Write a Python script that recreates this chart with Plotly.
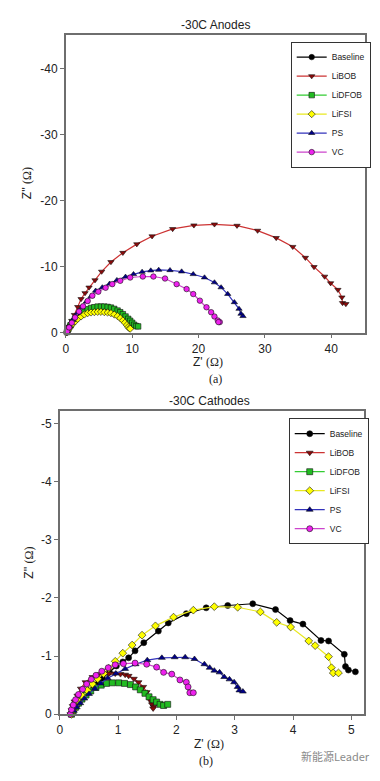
import plotly.graph_objects as go

W, H = 380, 781

# ---------------- Data: -30C Anodes  (Z' and Z'' in ohm) ----------------
series_names = ["Baseline", "LiBOB", "LiDFOB", "LiFSI", "PS", "VC"]

an_base_zre = [0.1, 0.2, 0.35, 0.5, 0.7, 0.9, 1.2, 1.6, 2.1, 2.7, 3.4, 4.2, 5.0, 5.8, 6.6, 7.4, 8.1, 8.7, 9.2, 9.6, 9.8]
an_base_zim = [0.0, -0.3, -0.6, -0.9, -1.2, -1.5, -1.9, -2.3, -2.7, -3.0, -3.25, -3.4, -3.45, -3.4, -3.25, -3.0, -2.6, -2.1, -1.6, -1.2, -1.0]

an_libob_zre = [0.2, 0.5, 0.9, 1.3, 1.8, 2.3, 2.9, 3.5, 4.4, 5.4, 6.8, 8.6, 10.7, 13.0, 16.1, 19.3, 22.4, 25.8, 28.9, 31.7, 34.2, 36.1, 37.4, 39.0, 39.9, 41.0, 41.6, 41.7, 42.2]
an_libob_zim = [-0.2, -0.9, -1.8, -2.7, -3.9, -5.1, -6.0, -6.85, -7.95, -9.25, -10.7, -12.1, -13.4, -14.6, -15.7, -16.25, -16.4, -16.2, -15.45, -14.35, -13.0, -11.35, -9.95, -8.5, -7.5, -6.5, -5.35, -4.5, -4.35]

an_lidfob_zre = [0.2, 0.4, 0.7, 1.0, 1.4, 1.8, 2.3, 2.8, 3.3, 3.8, 4.3, 4.8, 5.3, 5.8, 6.3, 6.8, 7.3, 7.8, 8.2, 8.6, 9.0, 9.4, 9.7, 10.0, 10.3, 10.6, 10.9]
an_lidfob_zim = [-0.1, -0.6, -1.1, -1.6, -2.1, -2.5, -2.9, -3.3, -3.55, -3.75, -3.85, -3.95, -3.95, -3.95, -3.9, -3.8, -3.6, -3.35, -3.1, -2.8, -2.45, -2.1, -1.8, -1.5, -1.2, -1.0, -0.95]

an_lifsi_zre = [0.2, 0.4, 0.7, 1.0, 1.4, 1.8, 2.3, 2.8, 3.3, 3.8, 4.3, 4.8, 5.3, 5.8, 6.3, 6.8, 7.3, 7.8, 8.2, 8.6, 8.9, 9.2, 9.4, 9.6, 9.7]
an_lifsi_zim = [-0.1, -0.5, -0.9, -1.3, -1.7, -2.1, -2.45, -2.75, -2.95, -3.05, -3.1, -3.15, -3.15, -3.1, -3.05, -2.95, -2.75, -2.5, -2.2, -1.85, -1.5, -1.15, -0.85, -0.65, -0.6]

an_ps_zre = [0.2, 0.6, 1.1, 1.7, 2.4, 3.1, 3.8, 4.5, 5.5, 6.6, 7.7, 9.0, 10.2, 11.5, 12.8, 14.0, 15.7, 17.45, 19.2, 20.9, 22.4, 23.4, 24.4, 25.4, 26.1, 26.4, 26.7]
an_ps_zim = [-0.2, -1.0, -1.9, -2.9, -3.8, -4.7, -5.5, -6.35, -6.85, -7.4, -7.95, -8.45, -8.85, -9.2, -9.4, -9.5, -9.45, -9.25, -8.85, -8.35, -7.6, -6.85, -5.85, -4.6, -3.6, -2.85, -2.5]

an_vc_zre = [0.2, 0.5, 0.9, 1.4, 2.0, 2.6, 3.3, 4.0, 4.9, 6.0, 7.0, 8.2, 9.7, 11.6, 13.2, 14.95, 16.7, 18.2, 19.2, 20.2, 21.2, 21.9, 22.4, 22.9, 23.2, 23.0]
an_vc_zim = [-0.2, -0.8, -1.5, -2.3, -3.2, -4.0, -4.8, -5.6, -6.2, -6.8, -7.35, -7.85, -8.35, -8.5, -8.5, -8.2, -7.35, -6.6, -5.85, -4.85, -3.85, -3.1, -2.45, -1.85, -1.6, -1.6]

# ---------------- Data: -30C Cathodes ----------------
ca_base_zre = [0.2, 0.22, 0.25, 0.3, 0.36, 0.43, 0.52, 0.62, 0.73, 0.85, 0.97, 1.08, 1.18, 1.29, 1.44, 1.69, 1.86, 2.17, 2.51, 2.88, 3.31, 3.70, 3.95, 4.17, 4.48, 4.61, 4.88, 4.90, 4.95, 5.07]
ca_base_zim = [0.0, -0.05, -0.1, -0.17, -0.25, -0.33, -0.42, -0.52, -0.62, -0.72, -0.83, -0.9, -0.97, -1.09, -1.23, -1.43, -1.57, -1.73, -1.83, -1.87, -1.9, -1.80, -1.61, -1.55, -1.27, -1.26, -1.03, -0.82, -0.76, -0.73]

ca_libob_zre = [0.18, 0.2, 0.22, 0.25, 0.3, 0.36, 0.44, 0.56, 0.70, 0.84, 0.95, 1.04, 1.12, 1.18, 1.27, 1.35, 1.43, 1.49, 1.55, 1.58, 1.61, 1.60]
ca_libob_zim = [0.0, -0.07, -0.14, -0.22, -0.32, -0.44, -0.55, -0.64, -0.69, -0.7, -0.7, -0.69, -0.68, -0.66, -0.61, -0.55, -0.47, -0.38, -0.24, -0.17, -0.13, -0.1]

ca_lidfob_zre = [0.2, 0.23, 0.27, 0.32, 0.38, 0.45, 0.53, 0.62, 0.71, 0.8, 0.9, 1.01, 1.11, 1.21, 1.3, 1.38, 1.46, 1.53, 1.6, 1.66, 1.72, 1.78, 1.85]
ca_lidfob_zim = [0.0, -0.06, -0.12, -0.19, -0.26, -0.33, -0.4, -0.46, -0.5, -0.53, -0.54, -0.54, -0.53, -0.51, -0.47, -0.42, -0.36, -0.3, -0.25, -0.21, -0.17, -0.15, -0.17]

ca_lifsi_zre = [0.2, 0.23, 0.27, 0.32, 0.39, 0.47, 0.56, 0.65, 0.75, 0.84, 0.95, 1.08, 1.24, 1.41, 1.64, 1.95, 2.29, 2.65, 3.05, 3.44, 3.72, 3.96, 4.27, 4.38, 4.61, 4.66, 4.69, 4.78]
ca_lifsi_zim = [0.0, -0.07, -0.14, -0.22, -0.31, -0.41, -0.52, -0.61, -0.7, -0.79, -0.91, -1.05, -1.19, -1.36, -1.52, -1.67, -1.79, -1.85, -1.84, -1.76, -1.58, -1.50, -1.26, -1.18, -0.99, -0.80, -0.71, -0.71]

ca_ps_zre = [0.2, 0.24, 0.29, 0.35, 0.42, 0.5, 0.6, 0.7, 0.82, 0.96, 1.12, 1.3, 1.5, 1.75, 1.97, 2.15, 2.31, 2.48, 2.57, 2.65, 2.74, 2.82, 2.91, 2.99, 3.05, 3.08, 3.14]
ca_ps_zim = [0.0, -0.06, -0.12, -0.19, -0.27, -0.35, -0.44, -0.53, -0.62, -0.7, -0.78, -0.86, -0.93, -0.97, -0.98, -0.98, -0.95, -0.86, -0.8, -0.75, -0.72, -0.64, -0.6, -0.55, -0.47, -0.41, -0.39]

ca_vc_zre = [0.18, 0.2, 0.23, 0.27, 0.32, 0.39, 0.46, 0.54, 0.62, 0.72, 0.83, 0.95, 1.09, 1.29, 1.49, 1.66, 1.78, 1.92, 2.06, 2.17, 2.20, 2.23, 2.29]
ca_vc_zim = [0.0, -0.08, -0.16, -0.25, -0.34, -0.43, -0.52, -0.6, -0.67, -0.74, -0.8, -0.85, -0.87, -0.88, -0.86, -0.81, -0.72, -0.69, -0.59, -0.55, -0.47, -0.37, -0.37]

x_ticks_an = [0, 10, 20, 30, 40]
y_ticks_an = [0, -10, -20, -30, -40]
y_labels_an = ["0", "-10", "-20", "-30", "-40"]
x_ticks_ca = [0, 1, 2, 3, 4, 5]
y_ticks_ca = [0, -1, -2, -3, -4, -5]
y_labels_ca = ["0", "-1", "-2", "-3", "-4", "-5"]

# ---------------- Styles ----------------
styles = {
    "Baseline": dict(line="#000000", fill="#000000", symbol="circle"),
    "LiBOB":    dict(line="#cc3333", fill="#8b0a0a", symbol="triangle-down"),
    "LiDFOB":   dict(line="#33cc33", fill="#22bb22", symbol="square"),
    "LiFSI":    dict(line="#e8e820", fill="#ffff00", symbol="diamond"),
    "PS":       dict(line="#3333bb", fill="#000088", symbol="triangle-up"),
    "VC":       dict(line="#cc44cc", fill="#ee22ee", symbol="circle"),
}

anode_data = {
    "Baseline": (an_base_zre, an_base_zim),
    "LiBOB": (an_libob_zre, an_libob_zim),
    "LiDFOB": (an_lidfob_zre, an_lidfob_zim),
    "LiFSI": (an_lifsi_zre, an_lifsi_zim),
    "PS": (an_ps_zre, an_ps_zim),
    "VC": (an_vc_zre, an_vc_zim),
}
cathode_data = {
    "Baseline": (ca_base_zre, ca_base_zim),
    "LiBOB": (ca_libob_zre, ca_libob_zim),
    "LiDFOB": (ca_lidfob_zre, ca_lidfob_zim),
    "LiFSI": (ca_lifsi_zre, ca_lifsi_zim),
    "PS": (ca_ps_zre, ca_ps_zim),
    "VC": (ca_vc_zre, ca_vc_zim),
}

fig = go.Figure()

def add_series(data, xa, ya, legend, msize):
    for name in series_names:
        zre, zim = data[name]
        st = styles[name]
        fig.add_trace(go.Scatter(
            x=zre, y=zim, name=name, mode="lines+markers",
            xaxis=xa, yaxis=ya, legend=legend, cliponaxis=False,
            line=dict(color=st["line"], width=1.2),
            marker=dict(symbol=st["symbol"], size=msize, color=st["fill"],
                        line=dict(color="#111111", width=0.6)),
        ))

add_series(anode_data, "x", "y", "legend", 5.5)
add_series(cathode_data, "x2", "y2", "legend2", 6)

def py(p):
    return 1 - p / H

def px(p):
    return p / W

axis_common = dict(
    showline=True, linecolor="#6e6e6e", linewidth=1.5, mirror=True,
    ticks="outside", ticklen=4, tickcolor="#6e6e6e", tickwidth=1,
    showgrid=False, zeroline=False,
    tickfont=dict(family="Liberation Sans, Arial", size=12, color="#222222"),
)

fig.update_layout(
    width=W, height=H,
    margin=dict(l=0, r=0, t=0, b=0),
    paper_bgcolor="white", plot_bgcolor="white",
    font=dict(family="Liberation Sans, Arial", color="#222222"),
    xaxis=dict(domain=[px(63.3), px(365)], range=[0, 45.1], tickvals=x_ticks_an,
               anchor="y", **axis_common),
    yaxis=dict(domain=[py(335.7), py(35)], range=[0, -45.1], tickvals=y_ticks_an,
               ticktext=y_labels_an, anchor="x", **axis_common),
    xaxis2=dict(domain=[px(57.3), px(364)], range=[0, 5.22], tickvals=x_ticks_ca,
                anchor="y2", **axis_common),
    yaxis2=dict(domain=[py(720.7), py(415)], range=[0, -5.21], tickvals=y_ticks_ca,
                ticktext=y_labels_ca, anchor="x2", **axis_common),
    legend=dict(x=px(290), y=py(42), xanchor="left", yanchor="top",
                bgcolor="white", bordercolor="#333333", borderwidth=1,
                font=dict(size=8.5, color="#222222"), tracegroupgap=0, itemwidth=30),
    legend2=dict(x=px(288), y=py(422), xanchor="left", yanchor="top",
                 bgcolor="white", bordercolor="#333333", borderwidth=1,
                 font=dict(size=8.5, color="#222222"), tracegroupgap=0, itemwidth=30),
    showlegend=True,
)

ann = []
def label(text, x, y, size=12, family="Liberation Sans, Arial", angle=0, color="#222222"):
    ann.append(dict(text=text, x=px(x), y=py(y), xref="paper", yref="paper",
                    showarrow=False, textangle=angle, xanchor="center", yanchor="middle",
                    font=dict(size=size, family=family, color=color)))

label("-30C Anodes", 214, 25)
label("Z' <span style='font-family:Liberation Serif'>(Ω)</span>", 207, 365)
label("(a)", 214, 382, family="Liberation Serif")
label("Z'' <span style='font-family:Liberation Serif'>(Ω)</span>", 25, 185, angle=-90)

label("-30C Cathodes", 208, 405)
label("Z' <span style='font-family:Liberation Serif'>(Ω)</span>", 208, 751)
label("(b)", 205, 768, family="Liberation Serif")
label("Z'' <span style='font-family:Liberation Serif'>(Ω)</span>", 26, 568, angle=-90)

label("新能源Leader", 335, 763, size=11, family="Noto Sans CJK SC", color="#8a8a8a")

fig.update_layout(annotations=ann)

fig.write_html("out.html", config={"displayModeBar": False},
               post_script="document.body.style.margin='0';document.body.style.overflow='hidden';")
